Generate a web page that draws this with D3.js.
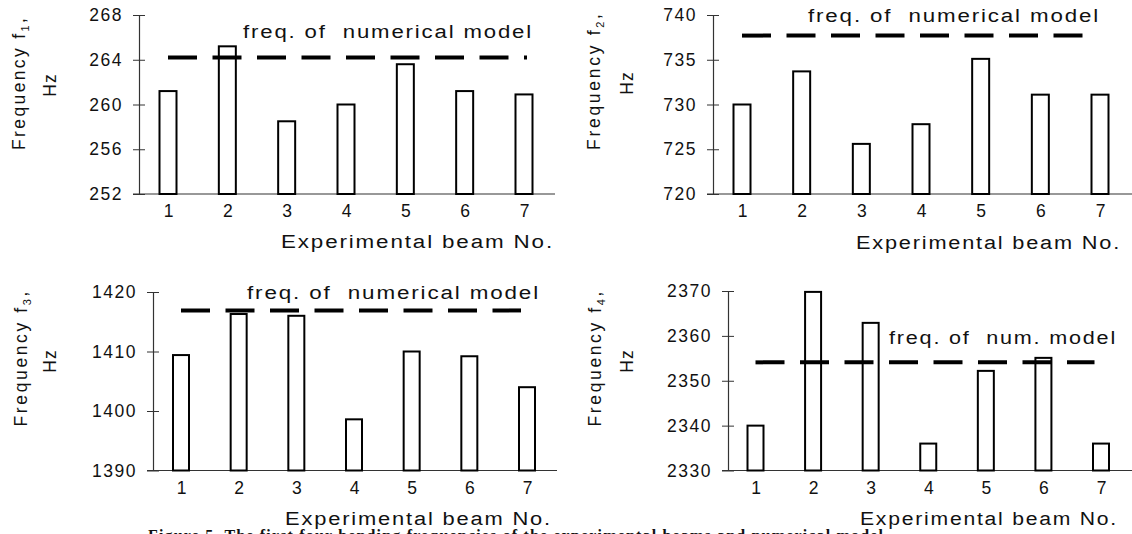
<!DOCTYPE html>
<html>
<head>
<meta charset="utf-8">
<script src="https://cdn.jsdelivr.net/npm/d3@7"></script>
<style>
  body { margin: 0; background: #fff; }
  text { font-family: "Liberation Sans", Arial, sans-serif; fill: #111; }
</style>
</head>
<body>
<div id="chart"></div>
<script>
// beam numbers on the x axis
var beams = [1, 2, 3, 4, 5, 6, 7];

// measured frequencies of the 7 experimental beams, Hz
var f1 = [261.2, 265.2, 258.5, 260.0, 263.6, 261.2, 260.9];
var f2 = [730.0, 733.7, 725.6, 727.8, 735.1, 731.1, 731.1];
var f3 = [1409.4, 1416.3, 1416.0, 1398.6, 1410.0, 1409.2, 1404.0];
var f4 = [2340.0, 2369.8, 2362.9, 2336.0, 2352.2, 2355.1, 2336.0];

// frequency of the numerical model for each mode
var numModel = [264.2, 737.7, 1416.9, 2354.1];

// y axis ticks
var ticks1 = [252, 256, 260, 264, 268];
var ticks2 = [720, 725, 730, 735, 740];
var ticks3 = [1390, 1400, 1410, 1420];
var ticks4 = [2330, 2340, 2350, 2360, 2370];

var notes = ["freq. of  numerical model", "freq. of  numerical model",
             "freq. of  numerical model", "freq. of  num. model"];
var xTitle = "Experimental beam No.";
var caption = "Figure 5. The first four bending frequencies of the experimental beams and numerical model";

function init() {

    var width = 1132;
    var height = 534;

    var svg = d3.select("#chart")
        .append("svg")
        .attr("width", width)
        .attr("height", height);

    // layout of the four panels (pixels)
    var panels = [
        { values: f1, num: numModel[0], ticks: ticks1, mode: "1", note: notes[0],
          axisX: 139, top: 15, bottom: 194, first: 29, last: 385, xEnd: 555, bw: 17, dashLen: 359,
          noteX: 243, noteY: 37.5, noteW: 290, titleX: 281, titleY: 248, titleW: 273,
          freqX: 25, freqY: 84, freqW: 132, hzX: 56, hzY: 85 },
        { values: f2, num: numModel[1], ticks: ticks2, mode: "2", note: notes[1],
          axisX: 713, top: 15, bottom: 194, first: 29, last: 387, xEnd: 1132, bw: 17, dashLen: 356,
          noteX: 808, noteY: 22, noteW: 292, titleX: 856, titleY: 249, titleW: 265,
          freqX: 600, freqY: 82, freqW: 136, hzX: 633, hzY: 83 },
        { values: f3, num: numModel[2], ticks: ticks3, mode: "3", note: notes[2],
          axisX: 153, top: 292, bottom: 470.5, first: 28, last: 374, xEnd: 557, bw: 16, dashLen: 340,
          noteX: 247, noteY: 298.5, noteW: 293, titleX: 285, titleY: 525, titleW: 267,
          freqX: 27, freqY: 359, freqW: 135, hzX: 56, hzY: 361 },
        { values: f4, num: numModel[3], ticks: ticks4, mode: "4", note: notes[3],
          axisX: 728, top: 291, bottom: 470.5, first: 27.5, last: 373, xEnd: 1132, bw: 16, dashLen: 339,
          noteX: 889, noteY: 344, noteW: 228, titleX: 860, titleY: 525, titleW: 258,
          freqX: 601, freqY: 359, freqW: 135, hzX: 633, hzY: 361 }
    ];

    panels.forEach(function (p) {

        var g = svg.append("g");

        var y = d3.scaleLinear()
            .domain([p.ticks[0], p.ticks[p.ticks.length - 1]])
            .range([p.bottom, p.top]);

        var x = d3.scalePoint()
            .domain(beams)
            .range([p.axisX + p.first, p.axisX + p.last]);

        // y axis, ticks cross the line
        var yAxis = g.append("g")
            .attr("transform", "translate(" + p.axisX + ",0)")
            .call(d3.axisLeft(y).tickValues(p.ticks).tickFormat(d3.format("d"))
                .tickSizeInner(6).tickSizeOuter(0).tickPadding(10));
        yAxis.select(".domain").attr("stroke", "#333").attr("stroke-width", 1.2);
        yAxis.selectAll(".tick line").attr("stroke", "#333");
        yAxis.selectAll(".tick").append("line")
            .attr("x2", 6)
            .attr("stroke", "#333");
        yAxis.selectAll(".tick text")
            .style("font-size", "17.5px")
            .style("letter-spacing", "1.5px")
            .attr("fill", "#111");

        // x axis
        g.append("line")
            .attr("x1", p.axisX - 6)
            .attr("x2", p.xEnd)
            .attr("y1", p.bottom)
            .attr("y2", p.bottom)
            .attr("stroke", "#333")
            .attr("stroke-width", 1.2);

        var xAxis = g.append("g")
            .attr("transform", "translate(0," + p.bottom + ")")
            .call(d3.axisBottom(x).tickSize(0).tickPadding(10.6));
        xAxis.select(".domain").remove();
        xAxis.selectAll(".tick text")
            .style("font-size", "17.5px")
            .attr("fill", "#111");

        // bars
        g.selectAll("rect")
            .data(p.values)
            .enter()
            .append("rect")
            .attr("x", function (d, i) { return x(beams[i]) - p.bw / 2; })
            .attr("y", function (d) { return y(d); })
            .attr("width", p.bw)
            .attr("height", function (d) { return p.bottom - y(d); })
            .attr("fill", "#fff")
            .attr("stroke", "#000")
            .attr("stroke-width", 2);

        // numerical model line
        g.append("line")
            .attr("x1", x(beams[0]))
            .attr("x2", x(beams[0]) + p.dashLen)
            .attr("y1", y(p.num))
            .attr("y2", y(p.num))
            .attr("stroke", "#000")
            .attr("stroke-width", 4)
            .attr("stroke-dasharray", "29,15.5");

        g.append("text")
            .attr("x", p.noteX)
            .attr("y", p.noteY)
            .attr("textLength", p.noteW)
            .attr("lengthAdjust", "spacingAndGlyphs")
            .style("white-space", "pre")
            .style("letter-spacing", "1.5px")
            .style("font-size", "18px")
            .text(p.note);

        g.append("text")
            .attr("x", p.titleX)
            .attr("y", p.titleY)
            .attr("textLength", p.titleW)
            .attr("lengthAdjust", "spacingAndGlyphs")
            .style("letter-spacing", "1.5px")
            .style("font-size", "18px")
            .text(xTitle);

        // y titles
        var ft = g.append("text")
            .attr("transform", "translate(" + p.freqX + "," + p.freqY + ") rotate(-90)")
            .attr("text-anchor", "middle")
            .attr("textLength", p.freqW)
            .attr("lengthAdjust", "spacing")
            .style("font-size", "17.5px");
        ft.append("tspan").text("Frequency f");
        ft.append("tspan").attr("dy", 4).style("font-size", "11px").text(p.mode);
        ft.append("tspan").attr("dy", -4).text(",");

        g.append("text")
            .attr("transform", "translate(" + p.hzX + "," + p.hzY + ") rotate(-90)")
            .attr("text-anchor", "middle")
            .style("font-size", "17.5px")
            .style("letter-spacing", "1px")
            .text("Hz");
    });

    // figure caption, cut off by the bottom edge
    svg.append("text")
        .attr("x", 148)
        .attr("y", 541)
        .attr("textLength", 735)
        .attr("lengthAdjust", "spacing")
        .style("font-family", "'Liberation Serif', 'Times New Roman', serif")
        .style("font-weight", "bold")
        .style("font-size", "16px")
        .text(caption);
}

window.onload = init;
</script>
</body>
</html>
